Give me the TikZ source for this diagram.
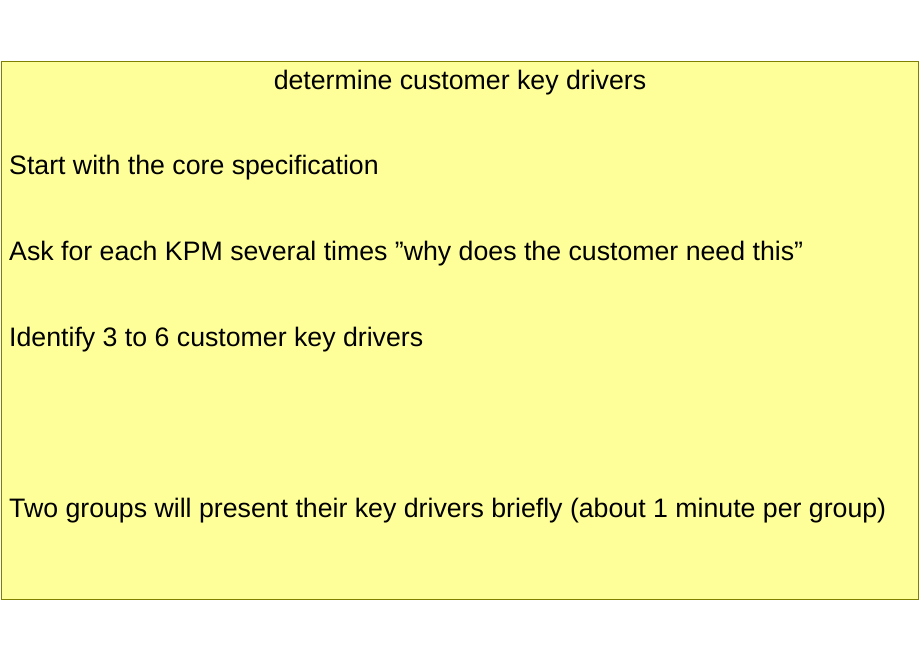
\documentclass[tikz,border=0pt]{standalone}
\usepackage{fontspec}
\setmainfont{Liberation Sans}
\definecolor{notefill}{RGB}{255,255,153}
\definecolor{noteline}{RGB}{128,128,0}
\tikzset{
  line/.style={anchor=base west, inner sep=0pt, font=\fontsize{26.7}{30}\selectfont},
}
\begin{document}
\begin{tikzpicture}[x=1pt,y=-1pt]
  \useasboundingbox (0,0) rectangle (920,660);
  % Kader
  \draw[noteline, fill=notefill] (1.5,61.5) rectangle (918.5,599.5);

  % Tekst
  \node[line, anchor=base] (title) at (460,90) {determine customer key drivers};
  \node[line] (start) at (9,175) {Start with the core specification};
  \node[line] (ask) at (9,261) {Ask for each KPM several times \symbol{34}why does the customer need this\symbol{34}};
  \node[line] (ident) at (9,346) {Identify 3 to 6 customer key drivers};
  \node[line] (groups) at (9,517) {Two groups will present their key drivers briefly (about 1 minute per group)};
\end{tikzpicture}
\end{document}
